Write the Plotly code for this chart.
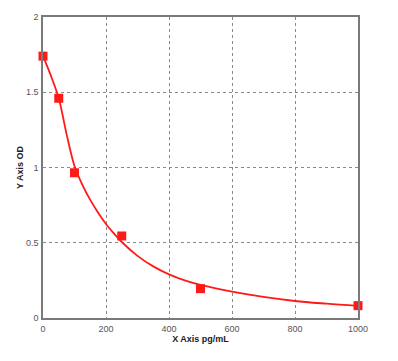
import plotly.graph_objects as go

# Standard points (concentration pg/mL, OD)
std_x = [0, 50, 100, 250, 500, 1000]
std_y = [1.74, 1.46, 0.965, 0.545, 0.195, 0.082]

# Fitted curve
curve_x = [0, 25, 50, 75, 100, 125, 150, 175, 200, 225, 250, 300, 350, 400, 450, 500, 600, 700, 800, 900, 1000]
curve_y = [1.74, 1.61, 1.46, 1.22, 1.01, 0.885, 0.785, 0.70, 0.625, 0.562, 0.505, 0.413, 0.343, 0.29, 0.25, 0.22, 0.175, 0.14, 0.113, 0.095, 0.08]

x_ticks = [0, 200, 400, 600, 800, 1000]
y_ticks = [0, 0.5, 1, 1.5, 2]
y_tick_text = ["0", "0.5", "1", "1.5", "2"]

fig = go.Figure()
fig.add_trace(go.Scatter(x=curve_x, y=curve_y, mode="lines",
                         line=dict(color="#ff1a1a", width=1.8, shape="spline", smoothing=1.0),
                         hoverinfo="skip", showlegend=False))
fig.add_trace(go.Scatter(x=std_x, y=std_y, mode="markers",
                         marker=dict(color="#ff1a1a", size=9, symbol="square"),
                         showlegend=False, cliponaxis=False))

axis_common = dict(
    showline=True, linecolor="#7a7a7a", linewidth=1.5, mirror=True,
    showgrid=True, gridcolor="#8a8a8a", gridwidth=1, griddash="dot",
    zeroline=False, ticks="", ticklen=0,
    tickfont=dict(family="Liberation Sans, Arial", size=9, color="#555555"),
)

fig.update_layout(
    width=398, height=361,
    margin=dict(l=43, r=40, t=13, b=43),
    paper_bgcolor="white", plot_bgcolor="white",
    xaxis=dict(range=[0, 1000], tickvals=x_ticks, ticklabelstandoff=1,
               title=dict(text="<b>X Axis pg/mL</b>", standoff=0,
                          font=dict(family="Liberation Sans, Arial", size=9, color="#222222")),
               **axis_common),
    yaxis=dict(range=[0, 2], tickvals=y_ticks, ticktext=y_tick_text, ticklabelstandoff=1,
               title=dict(text="<b>Y Axis OD</b>", standoff=1,
                          font=dict(family="Liberation Sans, Arial", size=9, color="#222222")),
               **axis_common),
)

fig.write_html("out.html")
